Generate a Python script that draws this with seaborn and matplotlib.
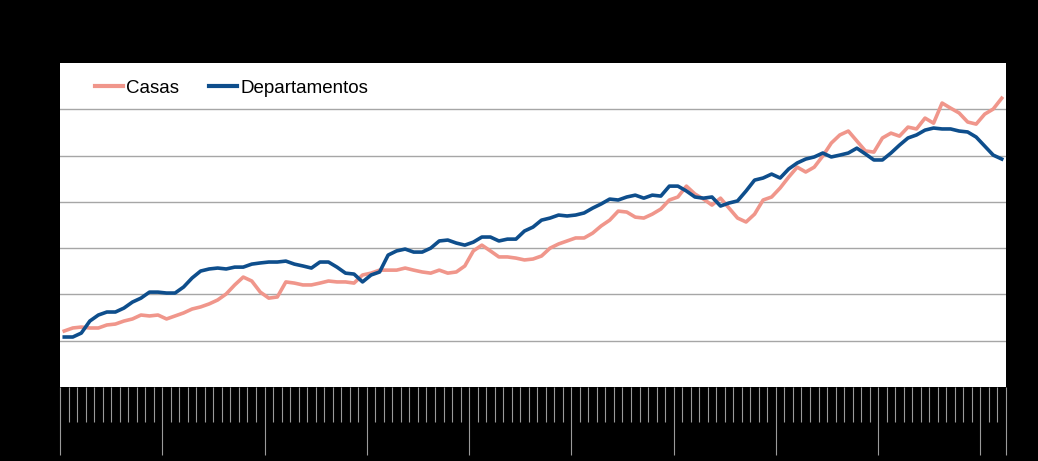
import numpy as np
import pandas as pd
import matplotlib
matplotlib.use("Agg")
import matplotlib.pyplot as plt
import seaborn as sns
from matplotlib.ticker import FixedLocator

months = list(range(111))

casas = [64.2, 65.5, 65.9, 65.5, 65.5, 66.8, 67.2, 68.5, 69.4, 71.1,
         70.7, 71.1, 69.4, 70.7, 72.0, 73.7, 74.6, 75.9, 77.6, 80.2,
         84.1, 87.5, 85.8, 81.0, 78.4, 78.9, 85.4, 84.9, 84.1, 84.1,
         84.9, 85.8, 85.4, 85.4, 84.9, 88.4, 89.2, 90.5, 90.5, 90.5,
         91.4, 90.5, 89.7, 89.2, 90.5, 89.2, 89.7, 92.3, 98.8, 101.3,
         98.8, 96.2, 96.2, 95.7, 94.9, 95.3, 96.6, 100.0, 101.8, 103.1,
         104.4, 104.4, 106.5, 109.6, 112.1, 116.0, 115.6, 113.4, 113.0, 114.7,
         116.9, 120.8, 122.1, 126.8, 123.4, 121.2, 118.6, 121.6, 117.3, 113.0,
         111.3, 114.7, 120.8, 122.1, 126.0, 130.7, 135.0, 132.9, 135.0, 139.8,
         145.4, 148.9, 150.6, 146.3, 142.0, 141.5, 147.6, 149.7, 148.4, 152.3,
         151.5, 156.2, 154.0, 162.7, 160.5, 158.4, 154.5, 153.6, 157.9, 160.1,
         164.8]

departamentos = [61.6, 61.6, 63.3, 68.5, 71.1, 72.4, 72.4, 74.1, 76.7, 78.4,
                 81.0, 81.0, 80.6, 80.6, 83.2, 87.1, 90.1, 91.0, 91.4, 91.0,
                 91.8, 91.8, 93.1, 93.6, 94.0, 94.0, 94.4, 93.1, 92.3, 91.4,
                 94.0, 94.0, 91.8, 89.2, 88.8, 85.4, 88.4, 89.7, 97.0, 98.8,
                 99.6, 98.3, 98.3, 100.0, 103.1, 103.5, 102.2, 101.3, 102.6, 104.8,
                 104.8, 103.1, 103.9, 103.9, 107.4, 109.1, 112.1, 113.0, 114.3, 113.9,
                 114.3, 115.2, 117.3, 119.1, 121.2, 120.8, 122.1, 122.9, 121.6, 122.9,
                 122.5, 126.8, 126.8, 124.7, 122.1, 121.6, 122.1, 118.2, 119.5, 120.4,
                 124.7, 129.4, 130.3, 132.0, 130.3, 134.2, 136.8, 138.5, 139.4, 141.1,
                 139.4, 140.2, 141.1, 143.2, 140.7, 138.1, 138.1, 141.1, 144.5, 147.6,
                 148.9, 151.0, 151.9, 151.5, 151.5, 150.6, 150.2, 148.0, 144.1, 140.2,
                 138.5]

series_names = ["Casas", "Departamentos"]
colors = {"Casas": "#F0968B", "Departamentos": "#0E4E8C"}

df = pd.concat([
    pd.DataFrame({"mes": months, "valor": casas, "serie": "Casas"}),
    pd.DataFrame({"mes": months, "valor": departamentos, "serie": "Departamentos"}),
])

plt.rcParams['font.family'] = ['Liberation Sans', 'DejaVu Sans']

fig = plt.figure(figsize=(10.38, 4.61), dpi=100, facecolor="black")
ax = fig.add_axes([60/1038, (461-387)/461, 946/1038, 324/461])
ax.set_facecolor("white")

sns.lineplot(data=df, x="mes", y="valor", hue="serie", hue_order=series_names,
             palette=colors, linewidth=2.6, ax=ax, legend=True)

ax.set_xlim(-0.5, 110.5)
ax.set_ylim(40, 180)

# y grid
ax.yaxis.set_major_locator(FixedLocator([60, 80, 100, 120, 140, 160]))
ax.grid(axis="y", color="#a6a6a6", linewidth=1.0)
ax.set_axisbelow(True)
ax.tick_params(axis="y", length=0, labelcolor="black", labelleft=False)

# x ticks: month boundaries (minor) and year boundaries (major)
major = [-0.5 + 12 * k for k in range(10)] + [110.5]
minor = [-0.5 + k for k in range(112)]
ax.xaxis.set_major_locator(FixedLocator(major))
ax.xaxis.set_minor_locator(FixedLocator(minor))
ax.tick_params(axis="x", which="major", direction="out", length=49, width=0.8,
               color="#9a9a9a", labelbottom=False)
ax.tick_params(axis="x", which="minor", direction="out", length=25, width=0.8,
               color="#9a9a9a")

for s in ax.spines.values():
    s.set_visible(False)

ax.set_xlabel("")
ax.set_ylabel("")

leg = ax.legend(loc="center left", bbox_to_anchor=(0.037, 0.923), ncol=2,
                frameon=False, fontsize=13.5, handlelength=1.5, handletextpad=0.16,
                columnspacing=1.6, borderaxespad=0, borderpad=0)
for line in leg.get_lines():
    line.set_linewidth(3)

fig.savefig("out.png", dpi=100, facecolor="black")
